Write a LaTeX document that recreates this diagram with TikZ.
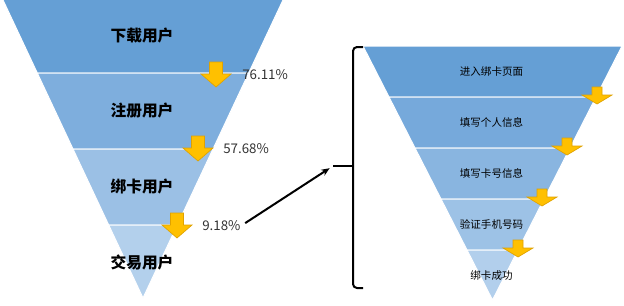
\documentclass[tikz,border=0pt]{standalone}
\usepackage{fontspec}
\usepackage{tikz}
\usetikzlibrary{arrows.meta,positioning,calc}
\newfontfamily\cjk{Noto Sans CJK SC}
\definecolor{fnA}{HTML}{659FD5}
\definecolor{fnB}{HTML}{7EAEDD}
\definecolor{fnC}{HTML}{9BC0E5}
\definecolor{fnD}{HTML}{B3D0EC}
\definecolor{fsA}{HTML}{659FD5}
\definecolor{fsB}{HTML}{76A9DB}
\definecolor{fsC}{HTML}{89B5E0}
\definecolor{fsD}{HTML}{9DC2E6}
\definecolor{fsE}{HTML}{B2CFEC}
\definecolor{dropfill}{HTML}{FFC000}
\definecolor{dropline}{HTML}{E0A200}
\tikzset{
  biglabel/.style={font=\cjk\bfseries\fontsize{11.8}{13}\selectfont, text=black, inner sep=1pt},
  smalllabel/.style={font=\cjk\fontsize{7.9}{9}\selectfont, text=black, inner sep=1pt},
  ratelabel/.style={font=\cjk\fontsize{10}{12}\selectfont, text=black!80, anchor=west, inner sep=0pt},
  linkarrow/.style={-{Stealth[length=2.2mm,width=1.8mm]}, line width=1.5pt, draw=black},
  bracket/.style={line width=1.5pt, draw=black, rounded corners=3},
  bigdrop/.pic={\draw[fill=dropfill, draw=dropline, line width=0.5pt]
    (-6.5,-12) -- (6.5,-12) -- (6.5,0) -- (15,0) -- (0,13) -- (-15,0) -- (-6.5,0) -- cycle;},
  smalldrop/.pic={\draw[fill=dropfill, draw=dropline, line width=0.5pt]
    (-5,-10) -- (5,-10) -- (5,-2) -- (15,-2) -- (0,7) -- (-15,-2) -- (-5,-2) -- cycle;}
}
% one band of a funnel: centre x, top y, apex y, half width at top, band top, band bottom, colour
\newcommand{\funnelband}[7]{%
  \pgfmathsetmacro{\wa}{#4/(#3-#2)*(#3-#5)}%
  \pgfmathsetmacro{\wb}{#4/(#3-#2)*(#3-#6)}%
  \fill[#7, draw=white, line width=0.75pt] (#1-\wa,#5) -- (#1+\wa,#5) -- (#1+\wb,#6) -- (#1-\wb,#6) -- cycle;}
\begin{document}
\begin{tikzpicture}[x=0.75pt, y=-0.75pt]
  \useasboundingbox (0,0) rectangle (624,305);

  % left funnel
  \funnelband{143}{0}{298}{140}{-2}{73}{fnA}
  \funnelband{143}{0}{298}{140}{73}{149}{fnB}
  \funnelband{143}{0}{298}{140}{149}{225}{fnC}
  \funnelband{143}{0}{298}{140}{225}{298}{fnD}
  \node[biglabel] (dl) at (142,36) {下载用户};
  \node[biglabel] (zc) at (142,111) {注册用户};
  \node[biglabel] (bk) at (142,187) {绑卡用户};
  \node[biglabel] (jy) at (142,262) {交易用户};
  \pic at (216,74) {bigdrop};
  \pic at (198,148) {bigdrop};
  \pic at (177,225) {bigdrop};
  \node[ratelabel] (r1) at (242,75) {76.11\%};
  \node[ratelabel] (r2) at (223,149) {57.68\%};
  \node[ratelabel] (r3) at (202,226) {9.18\%};

  % right funnel
  \funnelband{492.5}{46}{300}{129.5}{46}{97}{fsA}
  \funnelband{492.5}{46}{300}{129.5}{97}{148}{fsB}
  \funnelband{492.5}{46}{300}{129.5}{148}{199}{fsC}
  \funnelband{492.5}{46}{300}{129.5}{199}{250}{fsD}
  \funnelband{492.5}{46}{300}{129.5}{250}{300}{fsE}
  \node[smalllabel] (jr) at (491.5,72) {进入绑卡页面};
  \node[smalllabel] (tg) at (491.5,122) {填写个人信息};
  \node[smalllabel] (tk) at (491.5,173) {填写卡号信息};
  \node[smalllabel] (yz) at (491.5,224) {验证手机号码};
  \node[smalllabel] (cg) at (491.5,276) {绑卡成功};
  \pic at (597,97) {smalldrop};
  \pic at (567,148) {smalldrop};
  \pic at (542,199) {smalldrop};
  \pic at (518,250) {smalldrop};

  % bracket and link
  \coordinate (tip) at (333,166);
  \draw[bracket] (363,47) -- (353,47) -- (353,288) -- (363,288);
  \draw[line width=1.5pt] (353,166) -- (tip);
  \draw[linkarrow, shorten <=4pt, shorten >=3pt] (r3.east) -- (tip);
\end{tikzpicture}
\end{document}
